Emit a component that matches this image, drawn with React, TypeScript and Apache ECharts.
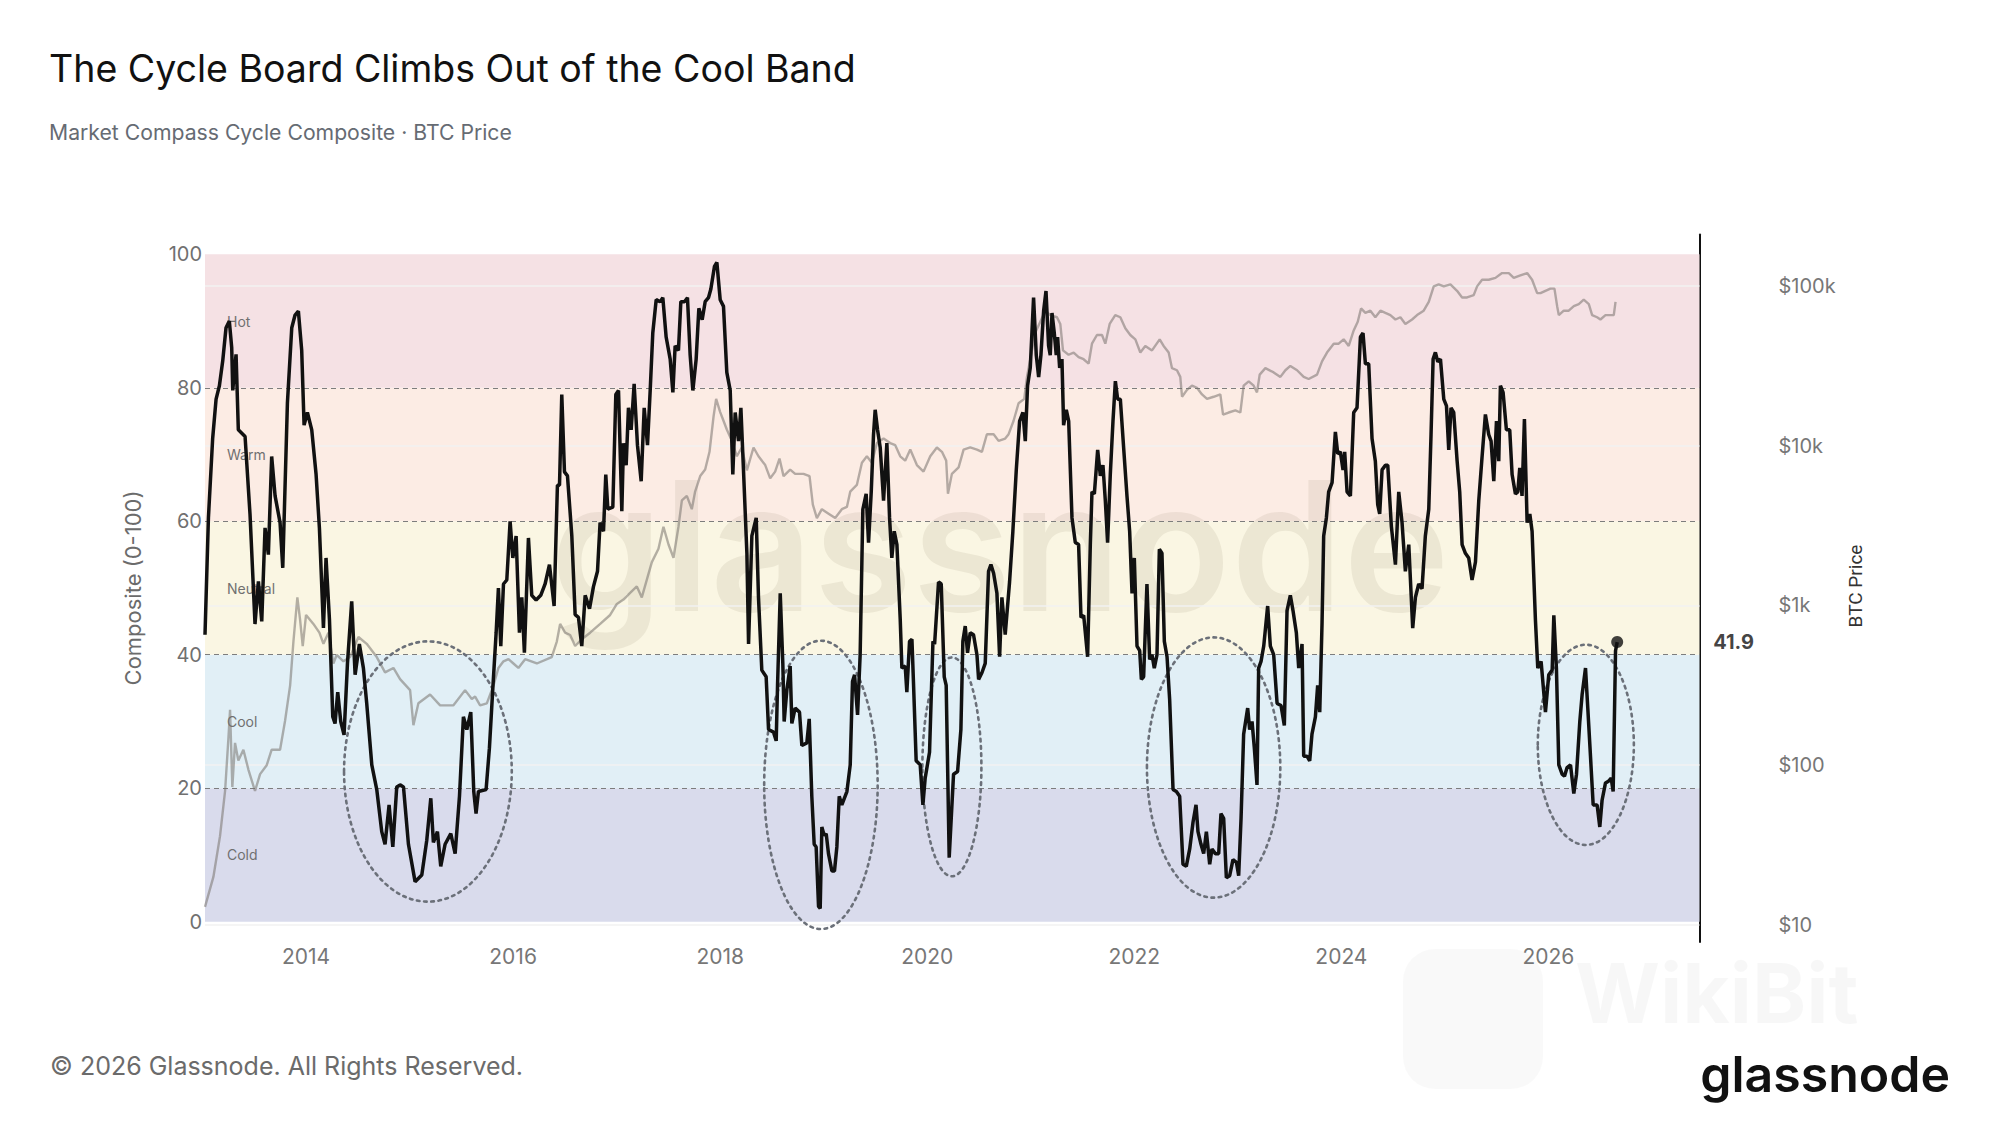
import React, { useEffect, useRef } from 'react';
import * as echarts from 'echarts';

// ---- Cycle composite (0-100), [decimal year, value] ----
const compositeCycle2013: [number, number][] = [
  [2013.024, 43], [2013.057, 60.5], [2013.098, 72.4], [2013.131, 78.3], [2013.163, 80.3], [2013.195, 84], [2013.227, 89], [2013.259, 90], [2013.282, 86], [2013.292, 79.6], [2013.324, 85], [2013.346, 73.7], [2013.411, 72.7], [2013.459, 61], [2013.507, 44.6], [2013.540, 51], [2013.572, 45], [2013.604, 59], [2013.636, 55], [2013.668, 69.7], [2013.701, 63.8], [2013.749, 59.8], [2013.775, 53], [2013.820, 77.7], [2013.862, 89], [2013.894, 90.9], [2013.926, 91.5], [2013.958, 85.6], [2013.981, 74.4], [2014.013, 76.3], [2014.055, 73.7], [2014.097, 67], [2014.129, 59], [2014.168, 44], [2014.193, 54.5], [2014.226, 45.3], [2014.258, 30.7], [2014.280, 29.7], [2014.306, 34.4], [2014.335, 30], [2014.367, 28], [2014.400, 38.7], [2014.441, 48], [2014.474, 37], [2014.515, 41.6], [2014.554, 38], [2014.586, 32.7], [2014.635, 23.5], [2014.683, 19.8], [2014.731, 13.5], [2014.763, 11.6], [2014.802, 17.5], [2014.838, 11.2], [2014.876, 20.2], [2014.908, 20.5], [2014.941, 20.2], [2014.989, 11.6], [2015.053, 6], [2015.118, 7], [2015.166, 12.2], [2015.205, 18.5], [2015.230, 11.9], [2015.269, 13.5], [2015.301, 8.3], [2015.343, 11.6], [2015.398, 13.2], [2015.440, 10.2], [2015.482, 18.8], [2015.520, 30.7], [2015.553, 28.8], [2015.591, 31.4], [2015.620, 19.5], [2015.642, 16.2], [2015.665, 19.5], [2015.739, 19.8],
];
const compositeCycle2016: [number, number][] = [
  [2015.771, 26], [2015.803, 34.7], [2015.836, 43.3], [2015.858, 50], [2015.881, 41.3], [2015.907, 50.6], [2015.939, 51.2], [2015.971, 60], [2015.997, 54.5], [2016.029, 57.8], [2016.061, 43.3], [2016.084, 48.6], [2016.109, 40.3], [2016.148, 57.5], [2016.180, 48.9], [2016.222, 48.2], [2016.267, 48.9], [2016.309, 50.6], [2016.351, 53.5], [2016.396, 47.3], [2016.428, 65.4], [2016.448, 65.4], [2016.470, 79], [2016.496, 67.4], [2016.525, 66.8], [2016.567, 57.8], [2016.599, 46], [2016.631, 45.6], [2016.663, 41.3], [2016.696, 48.9], [2016.738, 46.9], [2016.776, 50.2], [2016.815, 52.5], [2016.840, 59.8], [2016.873, 58.5], [2016.895, 67], [2016.915, 61.8], [2016.963, 62.1], [2016.992, 79], [2017.018, 79.6], [2017.050, 61.5], [2017.066, 71.7], [2017.092, 68.4], [2017.114, 77], [2017.140, 73.7], [2017.169, 80.6], [2017.201, 71.4], [2017.237, 66], [2017.266, 77], [2017.298, 71.4], [2017.324, 79.6], [2017.349, 88.2], [2017.382, 93.2], [2017.420, 92.9], [2017.446, 93.5], [2017.478, 87.6], [2017.517, 84.3], [2017.543, 79.3], [2017.565, 86.3], [2017.597, 85.6], [2017.620, 92.9], [2017.655, 92.9], [2017.684, 93.5], [2017.710, 84.9], [2017.736, 79.6], [2017.768, 84.3], [2017.794, 91.9], [2017.826, 90.2], [2017.855, 92.9], [2017.887, 93.5], [2017.910, 94.8], [2017.945, 98.2], [2017.968, 98.8], [2018.000, 93.2], [2018.032, 92.2], [2018.064, 82.3], [2018.097, 79.6], [2018.122, 67], [2018.145, 76.3], [2018.177, 72], [2018.200, 77], [2018.225, 67.7], [2018.258, 55.2], [2018.274, 41.6],
];
const compositeCycle2019: [number, number][] = [
  [2018.306, 57.8], [2018.348, 60.5], [2018.370, 48.6], [2018.402, 37.7], [2018.444, 36.7], [2018.467, 28.8], [2018.515, 28.4], [2018.541, 27.1], [2018.554, 35.4], [2018.580, 49.2], [2018.605, 38.7], [2018.618, 30], [2018.644, 34.7], [2018.676, 38.3], [2018.692, 29.7], [2018.724, 32], [2018.766, 31.4], [2018.789, 26.4], [2018.837, 26.8], [2018.860, 30.4], [2018.885, 18.8], [2018.908, 11.6], [2018.927, 11.2], [2018.950, 2.3], [2018.966, 2], [2018.982, 14.2], [2019.005, 12.9], [2019.024, 13.2], [2019.046, 10.2], [2019.079, 7.6], [2019.104, 7.6], [2019.127, 11.2], [2019.150, 18.8], [2019.175, 17.5], [2019.224, 19.5], [2019.256, 23.5], [2019.278, 36], [2019.298, 37], [2019.327, 31], [2019.352, 40], [2019.378, 61.8], [2019.410, 64.1], [2019.433, 56.8], [2019.459, 64.4], [2019.481, 73], [2019.497, 76.7], [2019.520, 73.7], [2019.546, 71], [2019.578, 63.1], [2019.610, 71.7], [2019.636, 60.5], [2019.658, 54.5], [2019.681, 58.5], [2019.707, 56.5], [2019.739, 45.3], [2019.755, 38], [2019.787, 38.3], [2019.803, 34.4], [2019.829, 42], [2019.852, 42.3], [2019.868, 35.4], [2019.893, 24.1], [2019.932, 23.5], [2019.958, 17.5], [2019.980, 21.5], [2020.022, 25.4], [2020.055, 42], [2020.071, 41.6], [2020.109, 50.9], [2020.135, 50.6], [2020.164, 36.7], [2020.183, 35.4], [2020.212, 9.6], [2020.254, 22.1], [2020.293, 22.5], [2020.325, 28.8], [2020.344, 42], [2020.367, 44.3], [2020.389, 40.3], [2020.415, 43.3], [2020.447, 43], [2020.480, 40], [2020.496, 36.3], [2020.528, 37.3], [2020.560, 38.7], [2020.592, 52.5], [2020.615, 53.5], [2020.641, 52.2], [2020.673, 49.2], [2020.699, 39.7], [2020.721, 48.6], [2020.753, 43], [2020.795, 50.9], [2020.827, 58.5], [2020.860, 67.7], [2020.892, 75],
];
const compositeCycle2022: [number, number][] = [
  [2020.924, 76.3], [2020.947, 72], [2020.969, 80.3], [2020.995, 83], [2021.027, 93.5], [2021.053, 84.9], [2021.076, 81.6], [2021.098, 84.9], [2021.124, 91.5], [2021.147, 94.5], [2021.172, 86.3], [2021.188, 84.9], [2021.205, 91.2], [2021.227, 88.2], [2021.246, 84.9], [2021.259, 87.6], [2021.279, 83], [2021.301, 84.3], [2021.317, 74.4], [2021.343, 76.7], [2021.366, 75], [2021.398, 60.5], [2021.430, 56.8], [2021.462, 56.5], [2021.485, 45.6], [2021.511, 45.9], [2021.549, 39.7], [2021.575, 56.5], [2021.591, 64.4], [2021.614, 64.1], [2021.646, 70.7], [2021.672, 66.8], [2021.697, 68.4], [2021.720, 63.1], [2021.742, 56.8], [2021.768, 67], [2021.794, 75], [2021.817, 81], [2021.839, 78.3], [2021.865, 78.3], [2021.897, 71], [2021.929, 63.8], [2021.955, 58.5], [2021.978, 49.2], [2022.000, 54.5], [2022.026, 41.3], [2022.052, 40.6], [2022.068, 36.3], [2022.090, 36.7], [2022.122, 50.6], [2022.148, 39.3], [2022.171, 40], [2022.193, 38], [2022.219, 40], [2022.242, 55.8], [2022.267, 55.2], [2022.290, 42], [2022.316, 39.7], [2022.341, 33.4], [2022.374, 19.8], [2022.406, 19.5], [2022.438, 18.8], [2022.470, 8.6], [2022.502, 8.3], [2022.535, 10.9], [2022.567, 14.9], [2022.596, 17.5], [2022.615, 13.5], [2022.644, 11.6], [2022.670, 10.2], [2022.696, 13.5], [2022.728, 8.6], [2022.750, 10.9], [2022.783, 10.2], [2022.815, 10.2], [2022.837, 16.2], [2022.863, 15.5], [2022.889, 6.6], [2022.921, 6.9], [2022.953, 9.3], [2022.986, 8.9], [2023.008, 6.9], [2023.031, 15.5], [2023.056, 28.1], [2023.095, 32], [2023.114, 28.8], [2023.137, 30], [2023.159, 26.1], [2023.185, 20.5], [2023.201, 38], [2023.224, 39], [2023.250, 41.3], [2023.288, 47.3], [2023.314, 41.3], [2023.346, 40], [2023.379, 32.7], [2023.417, 32.4], [2023.449, 29.4], [2023.475, 46.6], [2023.507, 48.9],
];
const compositeCycle2025: [number, number][] = [
  [2023.533, 46.6], [2023.565, 43.3], [2023.588, 38], [2023.604, 39.7], [2023.620, 41.6], [2023.636, 24.8], [2023.668, 24.8], [2023.694, 24.1], [2023.716, 28.1], [2023.749, 30.7], [2023.771, 35.4], [2023.791, 31.4], [2023.813, 44.6], [2023.829, 57.8], [2023.855, 60.5], [2023.877, 64.4], [2023.910, 65.8], [2023.942, 73.4], [2023.965, 70.1], [2023.990, 70.4], [2024.016, 67.7], [2024.032, 70.4], [2024.055, 64.4], [2024.087, 63.8], [2024.119, 76.3], [2024.151, 77], [2024.184, 87.6], [2024.209, 88.2], [2024.232, 83.6], [2024.264, 83.6], [2024.296, 72.4], [2024.328, 69], [2024.351, 62.5], [2024.370, 61.1], [2024.393, 67.7], [2024.425, 68.4], [2024.448, 68.4], [2024.483, 59.2], [2024.522, 53.5], [2024.554, 64.4], [2024.586, 59.8], [2024.618, 52.5], [2024.651, 56.5], [2024.667, 51.2], [2024.689, 44], [2024.715, 48.6], [2024.747, 50.6], [2024.779, 49.9], [2024.811, 57.8], [2024.844, 61.8], [2024.866, 73], [2024.886, 84.3], [2024.908, 85.3], [2024.931, 83.9], [2024.957, 84.3], [2024.989, 78.3], [2025.015, 77.3], [2025.037, 70.7], [2025.059, 77], [2025.085, 76.3], [2025.118, 69], [2025.143, 64.4], [2025.166, 56.5], [2025.198, 55.2], [2025.230, 54.5], [2025.262, 51.2], [2025.295, 53.9], [2025.327, 63.1], [2025.359, 69.7], [2025.391, 76], [2025.423, 73], [2025.446, 72], [2025.472, 66], [2025.498, 75], [2025.520, 69], [2025.536, 80.3], [2025.562, 79.3], [2025.594, 73.7], [2025.626, 73.7], [2025.649, 67], [2025.681, 64.1], [2025.704, 64.4], [2025.723, 68], [2025.745, 63.8], [2025.768, 75.3], [2025.794, 59.8], [2025.820, 61.1], [2025.842, 58.5], [2025.874, 45.3], [2025.897, 38], [2025.929, 39], [2025.971, 31.4], [2026.003, 37], [2026.036, 37.7], [2026.052, 45.9], [2026.077, 38], [2026.100, 23.5], [2026.132, 22.1], [2026.155, 21.8], [2026.180, 23.1], [2026.213, 23.5], [2026.245, 19.2], [2026.271, 22.1], [2026.303, 30], [2026.325, 34], [2026.358, 38], [2026.380, 32], [2026.406, 24.8], [2026.432, 17.5], [2026.470, 17.5], [2026.496, 14.2], [2026.518, 18.2], [2026.551, 20.8], [2026.583, 21.1], [2026.606, 21.5], [2026.625, 19.5], [2026.648, 40.6], [2026.664, 41.9],
];

// ---- BTC price (USD), [decimal year, price] ----
const priceCycle2013: [number, number][] = [
  [2013.024, 13], [2013.105, 20], [2013.169, 36], [2013.218, 69], [2013.250, 147], [2013.266, 222], [2013.288, 73], [2013.314, 138], [2013.346, 107], [2013.395, 125], [2013.443, 94], [2013.507, 69], [2013.556, 88], [2013.620, 100], [2013.668, 125], [2013.749, 125], [2013.797, 189], [2013.846, 315], [2013.878, 594], [2013.916, 1122], [2013.942, 817], [2013.968, 557], [2014.000, 871], [2014.071, 766], [2014.129, 675], [2014.168, 575], [2014.216, 675], [2014.264, 433], [2014.296, 491], [2014.361, 447], [2014.425, 475], [2014.506, 634], [2014.586, 575], [2014.683, 475], [2014.763, 381], [2014.844, 406], [2014.908, 346], [2015.005, 295], [2015.037, 178], [2015.085, 244], [2015.198, 277], [2015.295, 237], [2015.424, 237], [2015.536, 295], [2015.601, 260],
];
const priceCycle2016: [number, number][] = [
  [2015.633, 269], [2015.681, 237], [2015.746, 244], [2015.810, 315], [2015.858, 406], [2015.907, 447], [2015.955, 461], [2016.003, 433], [2016.051, 406], [2016.116, 461], [2016.229, 433], [2016.373, 475], [2016.422, 594], [2016.454, 766], [2016.502, 675], [2016.551, 653], [2016.599, 557], [2016.663, 614], [2016.744, 675], [2016.841, 766], [2016.937, 871], [2017.002, 1021], [2017.066, 1087], [2017.130, 1197], [2017.195, 1315], [2017.243, 1122], [2017.291, 1445], [2017.340, 1866], [2017.404, 2259], [2017.452, 3105], [2017.501, 2405], [2017.549, 1987], [2017.597, 3105], [2017.630, 4539], [2017.678, 4842], [2017.726, 4000], [2017.758, 5155], [2017.807, 6442], [2017.855, 7080], [2017.897, 9141], [2017.936, 15200], [2017.961, 19600], [2018.000, 16200], [2018.032, 14300], [2018.064, 12600], [2018.113, 10700], [2018.161, 8570], [2018.209, 9730],
];
const priceCycle2019: [number, number][] = [
  [2018.258, 7000], [2018.322, 9730], [2018.370, 8570], [2018.435, 7550], [2018.483, 6240], [2018.531, 6870], [2018.573, 8300], [2018.612, 6440], [2018.676, 7080], [2018.724, 6650], [2018.805, 6650], [2018.863, 6440], [2018.895, 4270], [2018.934, 3520], [2018.982, 4000], [2019.047, 3750], [2019.111, 3520], [2019.175, 4000], [2019.224, 4130], [2019.256, 5150], [2019.320, 5670], [2019.369, 7800], [2019.417, 8570], [2019.465, 7800], [2019.514, 10370], [2019.578, 11070], [2019.642, 10370], [2019.691, 10050], [2019.739, 8570], [2019.787, 8050], [2019.836, 9440], [2019.900, 7550], [2019.964, 6870], [2020.029, 8570], [2020.093, 9730], [2020.142, 9140], [2020.183, 8050], [2020.200, 5000], [2020.238, 6650], [2020.303, 7310], [2020.351, 9440], [2020.415, 9730], [2020.480, 9440], [2020.528, 9140], [2020.576, 11780], [2020.641, 11780], [2020.689, 10700], [2020.753, 11070], [2020.786, 11780], [2020.834, 14300], [2020.882, 18400],
];
const priceCycle2022: [number, number][] = [
  [2020.937, 19600], [2020.963, 26900], [2020.995, 34700], [2021.043, 50800], [2021.092, 59600], [2021.140, 69800], [2021.188, 65500], [2021.253, 63500], [2021.285, 57700], [2021.311, 39400], [2021.365, 37000], [2021.414, 38200], [2021.462, 35800], [2021.510, 34700], [2021.559, 32600], [2021.591, 43400], [2021.639, 49200], [2021.688, 49200], [2021.720, 43400], [2021.762, 57700], [2021.816, 65500], [2021.865, 63500], [2021.913, 54200], [2021.961, 49200], [2022.010, 46200], [2022.058, 38200], [2022.106, 42000], [2022.171, 39400], [2022.245, 46200], [2022.283, 42000], [2022.332, 38200], [2022.364, 30500], [2022.412, 29600], [2022.444, 26900], [2022.461, 20200], [2022.509, 22300], [2022.557, 23700], [2022.605, 23000], [2022.654, 20900], [2022.702, 19600], [2022.766, 20200], [2022.831, 20900], [2022.857, 15600], [2022.911, 16100], [2022.976, 16600], [2023.024, 16100], [2023.056, 23700], [2023.105, 25200], [2023.153, 23700], [2023.185, 21500], [2023.211, 27800], [2023.266, 30500], [2023.346, 28700], [2023.411, 26900], [2023.459, 29600], [2023.507, 31500],
];
const priceCycle2025: [number, number][] = [
  [2023.572, 29600], [2023.636, 26900], [2023.684, 26100], [2023.765, 27800], [2023.813, 33600], [2023.861, 38200], [2023.926, 43400], [2023.974, 43400], [2024.022, 46200], [2024.071, 42000], [2024.119, 52500], [2024.158, 59600], [2024.190, 72100], [2024.232, 67600], [2024.280, 69800], [2024.328, 63500], [2024.377, 69800], [2024.425, 67600], [2024.473, 65500], [2024.522, 61500], [2024.570, 63500], [2024.618, 57700], [2024.683, 61500], [2024.731, 65500], [2024.795, 69800], [2024.844, 79300], [2024.892, 99100], [2024.940, 102000], [2024.989, 99100], [2025.053, 102000], [2025.117, 92900], [2025.166, 84500], [2025.214, 84500], [2025.278, 87300], [2025.311, 99100], [2025.359, 109000], [2025.423, 109000], [2025.488, 112000], [2025.552, 120000], [2025.617, 120000], [2025.665, 112000], [2025.729, 116000], [2025.794, 120000], [2025.842, 109000], [2025.891, 89900], [2025.923, 89900], [2025.971, 92900], [2026.019, 95900], [2026.058, 95900], [2026.084, 74500], [2026.100, 65500], [2026.148, 69800], [2026.196, 69800], [2026.245, 74500], [2026.293, 76800], [2026.341, 81800], [2026.390, 76800], [2026.422, 65500], [2026.470, 63500], [2026.502, 61500], [2026.551, 65500], [2026.599, 65500], [2026.631, 65500], [2026.648, 79300],
];

// ---- axes / bands / annotations ----
const yearTicks = [2014, 2016, 2018, 2020, 2022, 2024, 2026];
const priceTicks = [10, 100, 1000, 10000, 100000];
const bandNames = ['Cold', 'Cool', 'Neutral', 'Warm', 'Hot'];
const bandEdges = [0, 20, 40, 60, 80, 100];
const bandRules = [20, 40, 60, 80];
// trough rings: [center year, center value, half-width in years, half-height in points]
const troughRings: [number, number, number, number][] = [
  [2015.177, 22.5, 0.81, 19.5],
  [2018.973, 20.5, 0.548, 21.6],
  [2020.238, 23.2, 0.285, 16.4],
  [2022.766, 23.1, 0.644, 19.5],
  [2026.361, 26.5, 0.464, 15.0],
];

const bandColors = ['#d9dbec', '#e1eff6', '#faf6e3', '#fcece4', '#f5e1e4'];

export default function App() {
  const ref = useRef<HTMLDivElement>(null);

  useEffect(() => {
    const chart = echarts.init(ref.current!, null, { renderer: 'svg' });
    const composite = [
      ...compositeCycle2013, ...compositeCycle2016, ...compositeCycle2019,
      ...compositeCycle2022, ...compositeCycle2025,
    ];
    const price = [
      ...priceCycle2013, ...priceCycle2016, ...priceCycle2019,
      ...priceCycle2022, ...priceCycle2025,
    ];
    const last = composite[composite.length - 1];
    const xMin = 2013.024;
    const xMax = 2027.459;
    const font = 'Inter';

    const option: any = {
      animation: false,
      backgroundColor: '#ffffff',
      textStyle: { fontFamily: font },
      grid: [
        { left: 205, right: 300.5, top: 254.3, bottom: 203.3 },
        { left: 205, right: 300.5, top: 234.6, bottom: 183 },
      ],
      xAxis: [
        {
          type: 'value', gridIndex: 0, min: xMin, max: xMax,
          axisLine: { show: false }, axisTick: { show: false }, splitLine: { show: false },
          axisLabel: {
            customValues: yearTicks, formatter: (v: number) => String(Math.round(v)),
            color: '#777777', fontSize: 21, margin: 24, fontFamily: font,
          },
        },
        {
          type: 'value', gridIndex: 1, min: xMin, max: xMax, show: false,
        },
      ],
      yAxis: [
        {
          type: 'value', gridIndex: 0, min: 0, max: 100, interval: 20,
          axisLine: { show: false }, axisTick: { show: false }, splitLine: { show: false },
          axisLabel: { color: '#707070', fontSize: 20, margin: 3, fontFamily: font },
        },
        {
          type: 'log', logBase: 10, gridIndex: 1, position: 'right',
          min: 7.834, max: 208930,
          axisLine: { show: true, onZero: false, lineStyle: { color: '#111111', width: 2 } },
          axisTick: { show: false }, splitLine: { show: false },
          axisLabel: {
            customValues: priceTicks,
            formatter: (v: number) => (v >= 1000 ? `$${Math.round(v / 1000)}k` : `$${Math.round(v)}`),
            color: '#777777', fontSize: 20, margin: 79, fontFamily: font,
          },
        },
      ],
      series: [
        {
          name: 'bands', type: 'line', xAxisIndex: 0, yAxisIndex: 0, data: [], z: 1, silent: true,
          markArea: {
            z: 1, silent: true,
            label: { show: true, position: 'insideLeft', distance: 22, color: '#707070', fontSize: 14, fontFamily: font },
            data: bandNames.map((name, i) => [
              { name, yAxis: bandEdges[i], itemStyle: { color: bandColors[i] } },
              { yAxis: bandEdges[i + 1] },
            ]),
          },
          markLine: {
            z: 3, silent: true, symbol: 'none', label: { show: false },
            lineStyle: { color: '#7d7d7d', type: [5, 4], width: 1.2 },
            data: bandRules.map((v) => ({ yAxis: v })),
          },
        },
        {
          name: 'BTC Price', type: 'line', xAxisIndex: 1, yAxisIndex: 1, data: price, z: 4,
          showSymbol: false, silent: true,
          lineStyle: { color: 'rgba(120,115,110,0.55)', width: 2.4 },
          markLine: {
            z: 2, silent: true, symbol: 'none', label: { show: false },
            lineStyle: { color: '#f2f2f2', type: 'solid', width: 1.5 },
            data: priceTicks.map((v) => ({ yAxis: v })),
          },
        },
        {
          name: 'troughs', type: 'custom', xAxisIndex: 0, yAxisIndex: 0, z: 6, silent: true,
          data: troughRings,
          encode: { x: 0, y: 1 },
          renderItem: (_p: any, api: any) => {
            const c = api.coord([api.value(0), api.value(1)]);
            const s = api.size([api.value(2), api.value(3)]);
            return {
              type: 'ellipse',
              shape: { cx: c[0], cy: c[1], rx: s[0], ry: s[1] },
              style: { fill: 'none', stroke: '#6b7079', lineWidth: 2.6, lineDash: [2.6, 4.6], lineCap: 'round' },
            };
          },
        },
        {
          name: 'Composite', type: 'line', xAxisIndex: 0, yAxisIndex: 0, data: composite, z: 10,
          showSymbol: false, silent: true,
          lineStyle: { color: '#111111', width: 3.5 },
        },
        {
          name: 'latest', type: 'scatter', xAxisIndex: 0, yAxisIndex: 0, z: 11, silent: true,
          data: [last], symbolSize: 12, itemStyle: { color: '#111111' },
          label: {
            show: true, position: 'right', distance: 90,
            formatter: (p: any) => Number(p.value[1]).toFixed(1),
            color: '#111111', fontSize: 20, fontWeight: 'bold', fontFamily: font,
          },
        },
      ],
      graphic: [
        {
          type: 'text', x: 1000, y: 545, z: 1.5, silent: true,
          style: { text: 'glassnode', fontSize: 180, fontWeight: 600, fontFamily: font, fill: 'rgba(100,90,60,0.09)', align: 'center', verticalAlign: 'middle' },
        },
        {
          type: 'text', x: 49, y: 68.5,
          style: { text: 'The Cycle Board Climbs Out of the Cool Band', fontSize: 37.5, fontWeight: 400, fontFamily: font, fill: '#111111', align: 'left', verticalAlign: 'middle' },
        },
        {
          type: 'text', x: 49, y: 132,
          style: { text: 'Market Compass Cycle Composite · BTC Price', fontSize: 21.2, fontFamily: font, fill: '#666b73', align: 'left', verticalAlign: 'middle' },
        },
        {
          type: 'text', x: 132.5, y: 588, rotation: Math.PI / 2,
          style: { text: 'Composite (0-100)', fontSize: 22, fontFamily: font, fill: '#6b6b6b', align: 'center', verticalAlign: 'middle' },
        },
        {
          type: 'text', x: 1855.7, y: 586, rotation: Math.PI / 2,
          style: { text: 'BTC Price', fontSize: 19, fontFamily: 'Roboto', fill: '#333333', align: 'center', verticalAlign: 'middle' },
        },
        {
          type: 'text', x: 50, y: 1066,
          style: { text: '© 2026 Glassnode. All Rights Reserved.', fontSize: 25, fontFamily: font, fill: '#6b6b6b', align: 'left', verticalAlign: 'middle' },
        },
        {
          type: 'rect', shape: { x: 1403, y: 949, width: 140, height: 140, r: 32 }, z: 0,
          style: { fill: 'rgba(0,0,0,0.025)' },
        },
        {
          type: 'text', x: 1575, y: 993, z: 0,
          style: { text: 'WikiBit', fontSize: 82, fontWeight: 'bold', fontFamily: font, fill: 'rgba(0,0,0,0.03)', align: 'left', verticalAlign: 'middle' },
        },
        {
          type: 'text', x: 1950, y: 1074,
          style: { text: 'glassnode', fontSize: 50, fontWeight: 600, fontFamily: font, fill: '#111111', align: 'right', verticalAlign: 'middle' },
        },
      ],
    };

    chart.setOption(option);
    return () => chart.dispose();
  }, []);

  return <div ref={ref} style={{ position: 'absolute', left: 0, top: 0, width: 2000, height: 1125 }} />;
}
